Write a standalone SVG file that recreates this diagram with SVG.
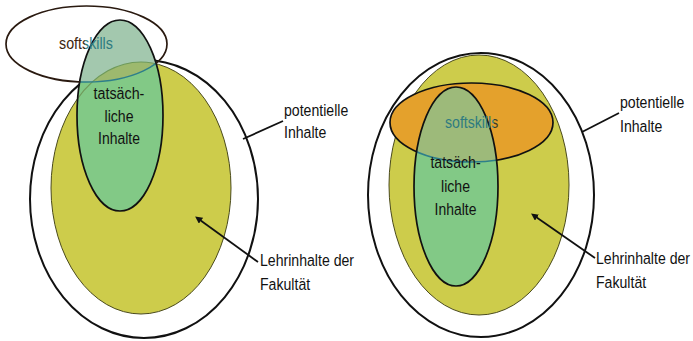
<svg xmlns="http://www.w3.org/2000/svg" width="693" height="341" viewBox="0 0 693 341">
<style>
.outer{fill:#fff;stroke:#111;stroke-width:2}
.yel{fill:#cdcc4b;stroke:#4a4a1c;stroke-width:1}
.grn{fill:#82c986}
.gline{fill:none;stroke:#111;stroke-width:1.7}
.teal{fill:none;stroke:#2e7f8a;stroke-width:1.6}
.olv{fill:none;stroke:#6f9a5a;stroke-width:1.2}
text{font-family:"Liberation Sans",Arial,sans-serif;font-size:17px;fill:#111}
.mid{text-anchor:middle}
.con{stroke:#111;stroke-width:1.8;fill:none}
</style>
<defs>
<marker id="tip" viewBox="0 0 6 6" refX="1" refY="3" markerWidth="4" markerHeight="4" orient="auto-start-reverse"><path d="M0,0 L6,3 L0,6 z" fill="#111"/></marker>
<clipPath id="cSoftL"><ellipse cx="86.5" cy="44" rx="80.5" ry="38"/></clipPath>
<clipPath id="cYelL"><ellipse cx="141" cy="188" rx="90" ry="126"/></clipPath>
<clipPath id="cGrnL"><ellipse cx="120" cy="115.5" rx="43" ry="95.5"/></clipPath>
<clipPath id="cOutGrnL"><path clip-rule="evenodd" d="M0,0H693V341H0Z M77,115.5a43,95.5 0 1,0 86,0a43,95.5 0 1,0 -86,0Z"/></clipPath>
<clipPath id="cOrR"><ellipse cx="471.5" cy="122.5" rx="81.5" ry="39.5"/></clipPath>
<clipPath id="cGrnR"><ellipse cx="456" cy="186.5" rx="42" ry="99.5"/></clipPath>
<linearGradient id="txtL" x1="0" y1="0" x2="1" y2="0">
<stop offset="0" stop-color="#3a2414"/><stop offset="0.48" stop-color="#3a2414"/><stop offset="0.48" stop-color="#2e7a80"/><stop offset="1" stop-color="#2e7a80"/>
</linearGradient>
<linearGradient id="txtR" x1="0" y1="0" x2="1" y2="0">
<stop offset="0" stop-color="#2e7a80"/><stop offset="0.91" stop-color="#2e7a80"/><stop offset="0.91" stop-color="#3c3c28"/><stop offset="1" stop-color="#3c3c28"/>
</linearGradient>
</defs>

<!-- LEFT DIAGRAM -->
<g id="l-potentielle">
<ellipse class="outer" cx="144" cy="199" rx="114" ry="139"/>
</g>
<g id="l-lehrinhalte">
<ellipse class="yel" cx="141" cy="188" rx="90" ry="126"/>
</g>
<g id="l-tatsaechlich">
<ellipse class="grn" cx="120" cy="115.5" rx="43" ry="95.5"/>
<g clip-path="url(#cSoftL)">
<ellipse cx="120" cy="115.5" rx="43" ry="95.5" fill="#a3c8ae"/>
<ellipse cx="120" cy="115.5" rx="43" ry="95.5" fill="#9db96e" clip-path="url(#cYelL)"/>
</g>
<g clip-path="url(#cGrnL)">
<ellipse class="olv" cx="141" cy="188" rx="90" ry="126"/>
<ellipse class="teal" cx="86.5" cy="44" rx="80.5" ry="38"/>
</g>
<ellipse class="gline" cx="120" cy="115.5" rx="43" ry="95.5"/>
<text class="mid" transform="translate(119,99) scale(0.84,1)">tatsäch-</text>
<text class="mid" transform="translate(119,122) scale(0.83,1)">liche</text>
<text class="mid" transform="translate(119,144) scale(0.82,1)">Inhalte</text>
</g>
<g id="l-softskills">
<ellipse cx="86.5" cy="44" rx="80.5" ry="38" fill="none" stroke="#2a1a10" stroke-width="1.7" clip-path="url(#cOutGrnL)"/>
<text transform="translate(59,49) scale(0.84,1)" style="fill:url(#txtL)">softskills</text>
</g>

<!-- RIGHT DIAGRAM -->
<g id="r-potentielle">
<ellipse class="outer" cx="481" cy="195" rx="113" ry="142"/>
</g>
<g id="r-lehrinhalte">
<ellipse class="yel" cx="479" cy="185" rx="90" ry="130"/>
</g>
<g id="r-softskills">
<ellipse cx="471.5" cy="122.5" rx="81.5" ry="39.5" fill="#e4a12c" stroke="#111" stroke-width="1.7"/>
</g>
<g id="r-tatsaechlich">
<ellipse class="grn" cx="456" cy="186.5" rx="42" ry="99.5"/>
<ellipse cx="456" cy="186.5" rx="42" ry="99.5" fill="#9dba7a" clip-path="url(#cOrR)"/>
<g clip-path="url(#cGrnR)">
<ellipse class="teal" cx="471.5" cy="122.5" rx="81.5" ry="39.5"/>
</g>
<ellipse class="gline" cx="456" cy="186.5" rx="42" ry="99.5"/>
<text class="mid" transform="translate(455.5,168) scale(0.83,1)">tatsäch-</text>
<text class="mid" transform="translate(455.5,192) scale(0.83,1)">liche</text>
<text class="mid" transform="translate(455.5,215) scale(0.82,1)">Inhalte</text>
</g>
<g id="r-softskills-label">
<text transform="translate(445,128) scale(0.83,1)" style="fill:url(#txtR)">softskills</text>
</g>

<!-- CONNECTORS -->
<g id="connectors">
<line class="con" x1="243" y1="139" x2="283" y2="121"/>
<line class="con" x1="200" y1="220" x2="258" y2="262" marker-start="url(#tip)"/>
<line class="con" x1="582" y1="132" x2="619" y2="113"/>
<line class="con" x1="536" y1="217" x2="595" y2="258" marker-start="url(#tip)"/>
</g>

<!-- LABELS -->
<g id="labels">
<text transform="translate(284,116) scale(0.83,1)">potentielle</text>
<text transform="translate(284,138) scale(0.83,1)">Inhalte</text>
<text transform="translate(260,266) scale(0.83,1)">Lehrinhalte der</text>
<text transform="translate(260,290) scale(0.83,1)">Fakultät</text>
<text transform="translate(620,108) scale(0.83,1)">potentielle</text>
<text transform="translate(620,132) scale(0.83,1)">Inhalte</text>
<text transform="translate(596,264) scale(0.83,1)">Lehrinhalte der</text>
<text transform="translate(596,288) scale(0.83,1)">Fakultät</text>
</g>
</svg>
